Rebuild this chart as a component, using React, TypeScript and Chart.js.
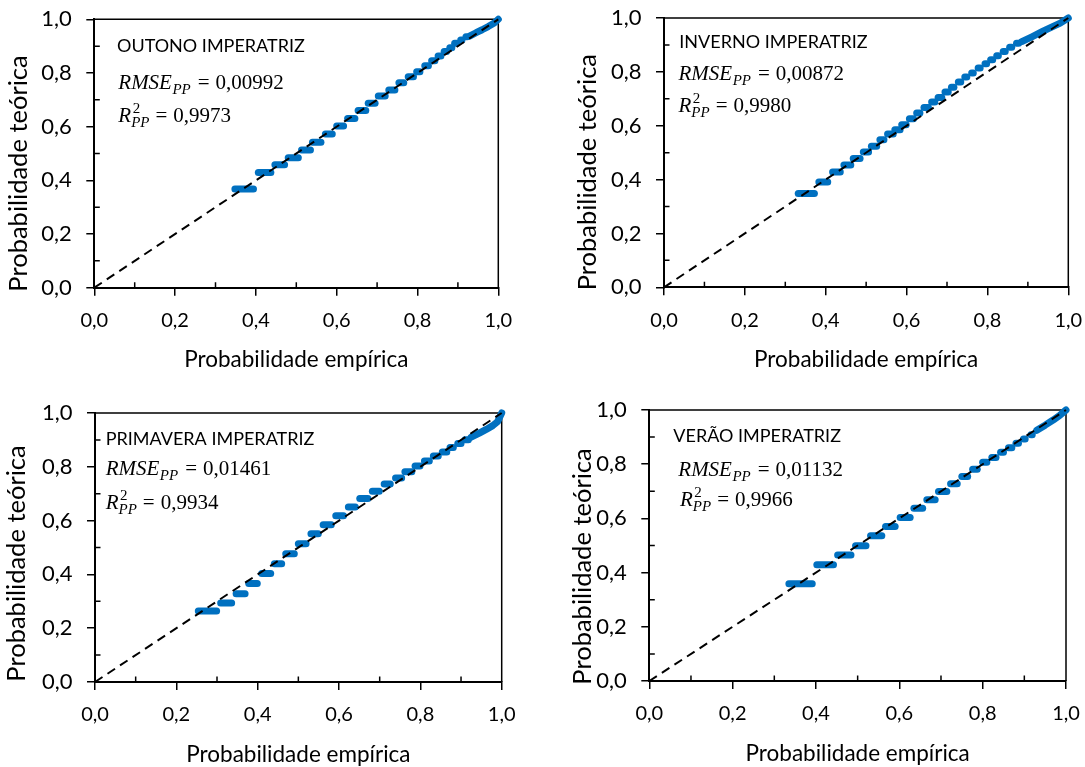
import React, { useEffect, useRef } from "react";
import { Chart, registerables } from "chart.js";

Chart.register(...registerables);

// ---------- shared axis data ----------
const tickValues = [0, 0.2, 0.4, 0.6, 0.8, 1.0];
const tickLabels = ["0,0", "0,2", "0,4", "0,6", "0,8", "1,0"];
const minorTickValues = [0.1, 0.3, 0.5, 0.7, 0.9];
const diagonalX = [0, 1];
const diagonalY = [0, 1];
const xAxisTitle = "Probabilidade empírica";
const yAxisTitle = "Probabilidade teórica";

// ---------- OUTONO ----------
const outonoStepY = [0.368, 0.429, 0.458, 0.484, 0.513, 0.542, 0.573, 0.602, 0.630, 0.660, 0.687, 0.714, 0.737, 0.764, 0.786, 0.805, 0.827, 0.846, 0.863, 0.880, 0.894, 0.911, 0.923, 0.935];
const outonoStepX0 = [0.348, 0.406, 0.447, 0.480, 0.513, 0.540, 0.572, 0.600, 0.627, 0.653, 0.678, 0.703, 0.729, 0.754, 0.777, 0.798, 0.818, 0.835, 0.851, 0.866, 0.880, 0.892, 0.907, 0.920];
const outonoStepX1 = [0.394, 0.437, 0.471, 0.505, 0.535, 0.561, 0.589, 0.617, 0.645, 0.672, 0.695, 0.720, 0.744, 0.766, 0.790, 0.806, 0.827, 0.843, 0.858, 0.872, 0.885, 0.897, 0.910, 0.923];
const outonoTailX = [0.93, 0.945, 0.96, 0.975, 0.99, 1.0];
const outonoTailY = [0.938, 0.950, 0.961, 0.973, 0.986, 1.0];

// ---------- INVERNO ----------
const invernoStepY = [0.348, 0.391, 0.428, 0.454, 0.478, 0.502, 0.524, 0.548, 0.569, 0.585, 0.604, 0.626, 0.647, 0.668, 0.688, 0.705, 0.725, 0.743, 0.762, 0.781, 0.796, 0.814, 0.830, 0.845, 0.860, 0.876, 0.891, 0.906];
const invernoStepX0 = [0.332, 0.383, 0.417, 0.445, 0.468, 0.493, 0.513, 0.534, 0.553, 0.571, 0.588, 0.607, 0.625, 0.643, 0.662, 0.678, 0.695, 0.711, 0.728, 0.744, 0.761, 0.777, 0.794, 0.808, 0.823, 0.839, 0.855, 0.872];
const invernoStepX1 = [0.372, 0.405, 0.436, 0.462, 0.485, 0.506, 0.526, 0.544, 0.567, 0.584, 0.599, 0.617, 0.633, 0.654, 0.670, 0.687, 0.703, 0.717, 0.734, 0.749, 0.765, 0.782, 0.798, 0.813, 0.827, 0.844, 0.860, 0.877];
const invernoTailX = [0.885, 0.91, 0.935, 0.96, 0.98, 1.0];
const invernoTailY = [0.912, 0.930, 0.949, 0.967, 0.981, 1.0];

// ---------- PRIMAVERA ----------
const primaveraStepY = [0.264, 0.294, 0.328, 0.366, 0.403, 0.440, 0.477, 0.514, 0.551, 0.585, 0.618, 0.651, 0.682, 0.709, 0.736, 0.758, 0.782, 0.803, 0.822, 0.840, 0.855, 0.872, 0.887, 0.901];
const primaveraStepX0 = [0.254, 0.309, 0.347, 0.378, 0.410, 0.441, 0.469, 0.500, 0.531, 0.561, 0.592, 0.623, 0.651, 0.682, 0.711, 0.739, 0.762, 0.787, 0.810, 0.832, 0.854, 0.873, 0.892, 0.910];
const primaveraStepX1 = [0.299, 0.336, 0.369, 0.399, 0.432, 0.459, 0.490, 0.519, 0.549, 0.581, 0.611, 0.640, 0.671, 0.699, 0.726, 0.754, 0.779, 0.799, 0.822, 0.844, 0.865, 0.881, 0.900, 0.918];
const primaveraTailX = [0.925, 0.945, 0.962, 0.978, 0.99, 1.0];
const primaveraTailY = [0.910, 0.925, 0.939, 0.953, 0.968, 1.0];

// ---------- VERÃO ----------
const veraoStepY = [0.359, 0.429, 0.465, 0.499, 0.536, 0.570, 0.603, 0.637, 0.669, 0.699, 0.728, 0.755, 0.781, 0.807, 0.825, 0.844, 0.861, 0.877, 0.893, 0.909];
const veraoStepX0 = [0.335, 0.402, 0.452, 0.495, 0.531, 0.567, 0.602, 0.635, 0.666, 0.694, 0.723, 0.750, 0.776, 0.800, 0.822, 0.843, 0.862, 0.880, 0.898, 0.916];
const veraoStepX1 = [0.391, 0.442, 0.484, 0.520, 0.558, 0.590, 0.626, 0.656, 0.686, 0.714, 0.739, 0.764, 0.787, 0.810, 0.832, 0.850, 0.870, 0.886, 0.902, 0.919];
const veraoTailX = [0.93, 0.95, 0.97, 0.985, 1.0];
const veraoTailY = [0.925, 0.944, 0.964, 0.980, 1.0];

const BLUE = "#0070C0";
const SANS = "Lato, 'Open Sans', sans-serif";
const SERIF = "'Liberation Serif', 'DejaVu Serif', serif";

type Box = { l: number; r: number; t: number; b: number };
type Pt = { x: number; y: number };
type Panel = {
  title: string;
  rmse: string;
  r2: string;
  stepY: number[];
  stepX0: number[];
  stepX1: number[];
  tailX: number[];
  tailY: number[];
  box: Box;
  header: Pt;
  rmsePos: Pt;
  r2Pos: Pt;
  yTitleOff: number;
  yTitleShift: number;
};

const panels: Panel[] = [
  {
    title: "OUTONO IMPERATRIZ", rmse: "0,00992", r2: "0,9973",
    stepY: outonoStepY, stepX0: outonoStepX0, stepX1: outonoStepX1, tailX: outonoTailX, tailY: outonoTailY,
    box: { l: 94.3, r: 498.3, t: 19.3, b: 287.7 },
    header: { x: 117, y: 52.3 }, rmsePos: { x: 118.3, y: 89.3 }, r2Pos: { x: 118.3, y: 121.7 },
    yTitleOff: 67.3, yTitleShift: 20,
  },
  {
    title: "INVERNO IMPERATRIZ", rmse: "0,00872", r2: "0,9980",
    stepY: invernoStepY, stepX0: invernoStepX0, stepX1: invernoStepX1, tailX: invernoTailX, tailY: invernoTailY,
    box: { l: 664, r: 1068.3, t: 18, b: 287.3 },
    header: { x: 679.3, y: 48 }, rmsePos: { x: 678.5, y: 79.7 }, r2Pos: { x: 678.5, y: 112 },
    yTitleOff: 67.6, yTitleShift: 19.5,
  },
  {
    title: "PRIMAVERA IMPERATRIZ", rmse: "0,01461", r2: "0,9934",
    stepY: primaveraStepY, stepX0: primaveraStepX0, stepX1: primaveraStepX1, tailX: primaveraTailX, tailY: primaveraTailY,
    box: { l: 95, r: 501.7, t: 413, b: 682 },
    header: { x: 105.7, y: 445.3 }, rmsePos: { x: 105.7, y: 474.7 }, r2Pos: { x: 105.7, y: 508.7 },
    yTitleOff: 70.4, yTitleShift: 16,
  },
  {
    title: "VERÃO IMPERATRIZ", rmse: "0,01132", r2: "0,9966",
    stepY: veraoStepY, stepX0: veraoStepX0, stepX1: veraoStepX1, tailX: veraoTailX, tailY: veraoTailY,
    box: { l: 649.3, r: 1066, t: 410, b: 681 },
    header: { x: 673.3, y: 442.3 }, rmsePos: { x: 678.3, y: 476 }, r2Pos: { x: 680, y: 506 },
    yTitleOff: 58.1, yTitleShift: 21,
  },
];

const W = 1085;
const H = 767;
const Y_SCALE_W = 70;
const X_SCALE_H = 60;

function decorPlugin(p: Panel) {
  return {
    id: "panelDecor",
    beforeDatasetsDraw(chart: any) {
      const { ctx, chartArea } = chart;
      const xs = chart.scales.x;
      const ys = chart.scales.y;
      ctx.save();
      ctx.strokeStyle = "#000";
      ctx.lineWidth = 1.5;
      ctx.beginPath();
      ctx.moveTo(chartArea.left, chartArea.top);
      ctx.lineTo(chartArea.right, chartArea.top);
      ctx.lineTo(chartArea.right, chartArea.bottom);
      ctx.stroke();
      ctx.beginPath();
      for (const v of minorTickValues) {
        const px = xs.getPixelForValue(v);
        ctx.moveTo(px, chartArea.bottom);
        ctx.lineTo(px, chartArea.bottom - 5.5);
        const py = ys.getPixelForValue(v);
        ctx.moveTo(chartArea.left, py);
        ctx.lineTo(chartArea.left + 5.5, py);
      }
      ctx.stroke();
      ctx.restore();
    },
    afterDraw(chart: any) {
      const { ctx, chartArea } = chart;
      ctx.save();
      ctx.fillStyle = "#000";
      ctx.textBaseline = "alphabetic";

      // axis titles
      ctx.font = `22.5px ${SANS}`;
      ctx.textAlign = "center";
      ctx.fillText(xAxisTitle, (chartArea.left + chartArea.right) / 2, chartArea.bottom + 79.6);
      ctx.save();
      ctx.translate(chartArea.left - p.yTitleOff, (chartArea.top + chartArea.bottom) / 2 + p.yTitleShift);
      ctx.rotate(-Math.PI / 2);
      ctx.font = `25.5px ${SANS}`;
      ctx.fillText(yAxisTitle, 0, 0);
      ctx.restore();

      // header
      ctx.textAlign = "left";
      ctx.font = `18px ${SANS}`;
      ctx.fillText(p.title, p.header.x, p.header.y);

      // RMSE line
      let x = p.rmsePos.x;
      let y = p.rmsePos.y;
      ctx.font = `italic 21px ${SERIF}`;
      ctx.fillText("RMSE", x, y);
      x += ctx.measureText("RMSE").width;
      ctx.font = `italic 15px ${SERIF}`;
      ctx.fillText("PP", x + 0.5, y + 5);
      x += ctx.measureText("PP").width + 0.5;
      ctx.font = `21px ${SERIF}`;
      x += 7;
      ctx.fillText("=", x, y);
      x += ctx.measureText("=").width + 6;
      ctx.fillText(p.rmse, x, y);

      // R2 line
      x = p.r2Pos.x;
      y = p.r2Pos.y;
      ctx.font = `italic 21px ${SERIF}`;
      ctx.fillText("R", x, y);
      x += ctx.measureText("R").width;
      ctx.font = `15px ${SERIF}`;
      ctx.fillText("2", x + 1.5, y - 9);
      ctx.font = `italic 15px ${SERIF}`;
      ctx.fillText("PP", x, y + 5);
      x += ctx.measureText("PP").width;
      ctx.font = `21px ${SERIF}`;
      x += 6;
      ctx.fillText("=", x, y);
      x += ctx.measureText("=").width + 6;
      ctx.fillText(p.r2, x, y);
      ctx.restore();
    },
  };
}

function PanelChart({ p }: { p: Panel }) {
  const ref = useRef<HTMLCanvasElement | null>(null);
  useEffect(() => {
    if (!ref.current) return;
    const stepSets = p.stepY.map((yv, i) => ({
      data: [
        { x: p.stepX0[i], y: yv },
        { x: p.stepX1[i], y: yv },
      ],
      showLine: true,
      borderColor: BLUE,
      backgroundColor: BLUE,
      borderWidth: 7,
      borderCapStyle: "round",
      pointRadius: 0,
      clip: false,
      order: 2,
    }));
    const tailSet = {
      data: p.tailX.map((xv, i) => ({ x: xv, y: p.tailY[i] })),
      showLine: true,
      borderColor: BLUE,
      backgroundColor: BLUE,
      borderWidth: 7,
      borderCapStyle: "round",
      borderJoinStyle: "round",
      pointRadius: 0,
      clip: false,
      order: 2,
    };
    const diagSet = {
      data: diagonalX.map((xv, i) => ({ x: xv, y: diagonalY[i] })),
      showLine: true,
      borderColor: "#000",
      borderWidth: 2,
      borderDash: [9, 6],
      pointRadius: 0,
      clip: false,
      order: 0,
    };
    const scaleCommon = (isX: boolean) => ({
      type: "linear",
      min: 0,
      max: 1,
      afterBuildTicks: (s: any) => {
        s.ticks = tickValues.map((v) => ({ value: v }));
      },
      afterFit: (s: any) => {
        if (isX) s.height = X_SCALE_H;
        else s.width = Y_SCALE_W;
        s.paddingTop = 0;
        s.paddingBottom = 0;
        s.paddingLeft = 0;
        s.paddingRight = 0;
      },
      ticks: {
        callback: (_v: any, i: number) => tickLabels[i],
        font: { family: SANS, size: isX ? 20 : 22 },
        color: "#000",
        padding: isX ? 13 : 14.5,
        maxRotation: 0,
        autoSkip: false,
      },
      grid: {
        display: true,
        drawOnChartArea: false,
        drawTicks: true,
        tickLength: 8,
        color: "#000",
        lineWidth: 1.5,
      },
      border: { display: true, color: "#000", width: 2 },
    });
    const chart = new Chart(ref.current, {
      type: "scatter",
      data: { datasets: [diagSet, tailSet, ...stepSets] as any },
      options: {
        responsive: false,
        animation: false,
        events: [],
        layout: {
          padding: {
            left: p.box.l - Y_SCALE_W,
            top: p.box.t,
            right: W - p.box.r,
            bottom: H - p.box.b - X_SCALE_H,
          },
        },
        plugins: { legend: { display: false }, tooltip: { enabled: false } },
        scales: { x: scaleCommon(true) as any, y: scaleCommon(false) as any },
      },
      plugins: [decorPlugin(p)],
    });
    return () => chart.destroy();
  }, []);
  return (
    <canvas
      ref={ref}
      width={W}
      height={H}
      style={{ position: "absolute", left: 0, top: 0, width: W, height: H }}
    />
  );
}

export default function App() {
  return (
    <div
      style={{
        position: "absolute",
        left: 0,
        top: 0,
        width: W,
        height: H,
        background: "#fff",
        overflow: "hidden",
      }}
    >
      {panels.map((p, i) => (
        <PanelChart key={i} p={p} />
      ))}
    </div>
  );
}
